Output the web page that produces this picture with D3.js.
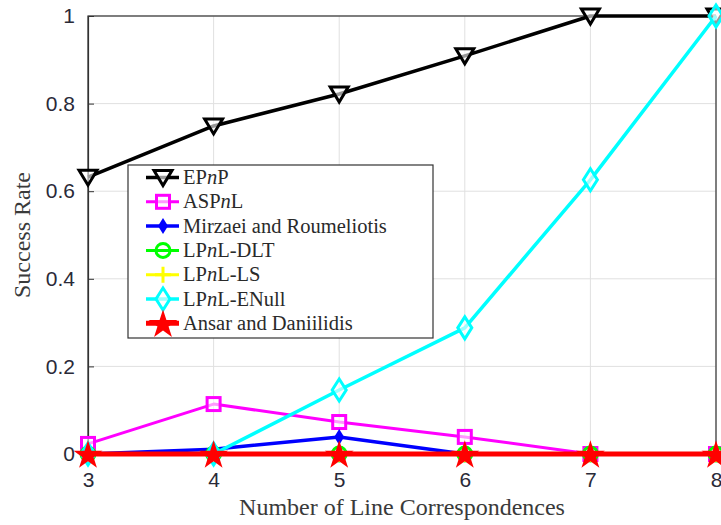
<!DOCTYPE html>
<html>
<head>
<meta charset="utf-8">
<script src="https://cdn.jsdelivr.net/npm/d3@7"></script>
<style>
  body { margin: 0; background: #fff; }
</style>
</head>
<body>
<svg id="chart" width="721" height="525"></svg>
<script>
const xValues = [3, 4, 5, 6, 7, 8];
const epnp = [0.632, 0.749, 0.822, 0.909, 1, 1];
const aspnl = [0.023, 0.114, 0.073, 0.039, 0, 0];
const mirzaei = [0, 0.011, 0.039, 0, 0, 0];
const lpnlDlt = [0, 0, 0, 0, 0, 0];
const lpnlLs = [0, 0, 0, 0, 0, 0];
const lpnlEnull = [0, 0, 0.146, 0.288, 0.626, 1];
const ansar = [0, 0, 0, 0, 0, 0];
const yTicks = [0, 0.2, 0.4, 0.6, 0.8, 1];

const series = [
  { name: "EPnP", values: epnp, color: "#000", width: 3.5, marker: "tri" },
  { name: "ASPnL", values: aspnl, color: "#ff00ff", width: 3, marker: "square" },
  { name: "Mirzaei and Roumeliotis", values: mirzaei, color: "#0000ff", width: 3.5, marker: "dot" },
  { name: "LPnL-DLT", values: lpnlDlt, color: "#00ff00", width: 3, marker: "circle" },
  { name: "LPnL-LS", values: lpnlLs, color: "#ffff00", width: 3, marker: "plus" },
  { name: "LPnL-ENull", values: lpnlEnull, color: "#00ffff", width: 3.5, marker: "diamond" },
  { name: "Ansar and Daniilidis", values: ansar, color: "#ff0000", width: 5, marker: "star" }
];

const svg = d3.select("#chart");
const margin = { left: 88, right: 5, top: 16, bottom: 71 };
const width = +svg.attr("width");
const height = +svg.attr("height");
const serif = "Liberation Serif, Times New Roman, serif";

const x = d3.scaleLinear().domain([3, 8]).range([margin.left, width - margin.right]);
const y = d3.scaleLinear().domain([0, 1]).range([height - margin.bottom, margin.top]);

// grid
svg.append("g").selectAll("line").data(xValues).enter().append("line")
  .attr("x1", d => x(d)).attr("x2", d => x(d))
  .attr("y1", y(0)).attr("y2", y(1))
  .attr("stroke", "#e0e0e0").attr("stroke-width", 1);
svg.append("g").selectAll("line").data(yTicks).enter().append("line")
  .attr("x1", x(3)).attr("x2", x(8))
  .attr("y1", d => y(d)).attr("y2", d => y(d))
  .attr("stroke", "#e0e0e0").attr("stroke-width", 1);

// axes
const xAxis = svg.append("g")
  .attr("transform", `translate(0,${y(0)})`)
  .call(d3.axisBottom(x).tickValues(xValues).tickSize(-6).tickPadding(18).tickFormat(d3.format("d")));
const yAxis = svg.append("g")
  .attr("transform", `translate(${x(3)},0)`)
  .call(d3.axisLeft(y).tickValues(yTicks).tickSize(-6).tickPadding(13).tickFormat(d => d === 0 || d === 1 ? d : d3.format(".1f")(d)));
[xAxis, yAxis].forEach(a => {
  a.select(".domain").attr("stroke", "#333").attr("stroke-width", 1.2);
  a.selectAll(".tick line").attr("stroke", "#333");
  a.selectAll("text").attr("fill", "#2a2a38")
    .style("font-family", "Liberation Sans, Arial, sans-serif").style("font-size", "21px");
});
svg.append("rect")
  .attr("x", x(3)).attr("y", y(1))
  .attr("width", x(8) - x(3)).attr("height", y(0) - y(1))
  .attr("fill", "none").attr("stroke", "#333").attr("stroke-width", 1.2);

// axis titles
svg.append("text")
  .attr("x", 402).attr("y", 515)
  .attr("text-anchor", "middle").attr("fill", "#3a3a3a")
  .style("font-family", serif).style("font-size", "24px")
  .text("Number of Line Correspondences");
svg.append("text")
  .attr("transform", `translate(30,235) rotate(-90)`)
  .attr("text-anchor", "middle").attr("fill", "#3a3a3a")
  .style("font-family", serif).style("font-size", "24px")
  .text("Success Rate");

// markers
const star = d3.symbol().type(d3.symbolStar).size(260)();
function drawMarker(g, type, color, cx, cy) {
  const m = g.append("g").attr("transform", `translate(${cx},${cy})`);
  if (type === "tri") {
    m.append("path").attr("d", "M-9,-7 L9,-7 L0,8 Z")
      .attr("fill", "#fff").attr("fill-opacity", 0.6).attr("stroke", color).attr("stroke-width", 3);
  } else if (type === "square") {
    m.append("rect").attr("x", -6.5).attr("y", -6.5).attr("width", 13).attr("height", 13)
      .attr("fill", "#fff").attr("fill-opacity", 0.6).attr("stroke", color).attr("stroke-width", 3);
  } else if (type === "dot") {
    m.append("path").attr("d", "M0,-8 L5,0 L0,8 L-5,0 Z").attr("fill", color);
  } else if (type === "circle") {
    m.append("circle").attr("r", 7).attr("fill", "none").attr("stroke", color).attr("stroke-width", 3);
  } else if (type === "plus") {
    m.append("path").attr("d", "M-8,0 L8,0 M0,-8 L0,8").attr("stroke", color).attr("stroke-width", 3);
  } else if (type === "diamond") {
    m.append("path").attr("d", "M0,-11 L7,0 L0,11 L-7,0 Z")
      .attr("fill", "#fff").attr("fill-opacity", 0.6).attr("stroke", color).attr("stroke-width", 3);
  } else if (type === "star") {
    m.append("path").attr("d", star).attr("fill", color).attr("transform", "translate(0,1.5)");
  }
}

const line = d3.line().x((d, i) => x(xValues[i])).y(d => y(d));
series.forEach(s => {
  const g = svg.append("g");
  g.append("path").datum(s.values).attr("d", line)
    .attr("fill", "none").attr("stroke", s.color).attr("stroke-width", s.width)
    .attr("stroke-linejoin", "round");
  s.values.forEach((v, i) => drawMarker(g, s.marker, s.color, x(xValues[i]), y(v)));
});

// legend
const lg = svg.append("g").attr("transform", "translate(128,165)");
lg.append("rect").attr("width", 305).attr("height", 173)
  .attr("fill", "#fff").attr("stroke", "#333").attr("stroke-width", 1.2);
series.forEach((s, i) => {
  const cy = 12.5 + i * 24.3;
  lg.append("line").attr("x1", 18).attr("x2", 51).attr("y1", cy).attr("y2", cy)
    .attr("stroke", s.color).attr("stroke-width", s.width);
  drawMarker(lg, s.marker, s.color, 35, cy);
  const t = lg.append("text").attr("x", 55).attr("y", cy + 6.5).attr("fill", "#2a2a2a")
    .style("font-family", serif).style("font-size", "20.5px");
  const m = s.name.match(/^(.*P)n(.*)$/);
  if (m && s.name.indexOf(" ") < 0) {
    t.append("tspan").text(m[1]);
    t.append("tspan").style("font-style", "italic").text("n");
    t.append("tspan").text(m[2]);
  } else {
    t.text(s.name);
  }
});
</script>
</body>
</html>
